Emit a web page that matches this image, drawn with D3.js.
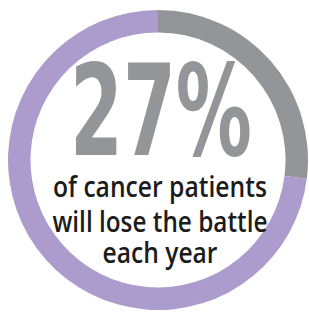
<!DOCTYPE html>
<html>
<head>
<meta charset="utf-8">
<script src="https://cdn.jsdelivr.net/npm/d3@7"></script>
<style>
  html, body { margin: 0; padding: 0; background: #fff; }
  svg { display: block; }
</style>
</head>
<body>
<svg id="chart" width="309" height="316"></svg>
<script>
const categories = ["lose the battle", "others"];
const values = [27, 73];
const colors = ["#939598", "#ab9ccd"];
const headline = "27%";
const captionLines = ["of cancer patients", "will lose the battle", "each year"];

const svg = d3.select("#chart");
const cx = 158, cy = 160, rOuter = 150, rInner = 127.5;

const g = svg.append("g").attr("transform", `translate(${cx},${cy})`);
const pie = d3.pie().sort(null).value(d => d.value);
const arc = d3.arc().innerRadius(rInner).outerRadius(rOuter);
const data = categories.map((c, i) => ({ cat: c, value: values[i] }));

g.selectAll("path").data(pie(data)).join("path")
  .attr("d", arc)
  .attr("fill", (d, i) => colors[i]);

svg.append("text")
  .attr("x", 161).attr("y", 155)
  .attr("text-anchor", "middle")
  .attr("font-family", "'Liberation Sans Narrow', 'DejaVu Sans Condensed', sans-serif")
  .attr("font-weight", "bold")
  .attr("font-size", 127)
  .attr("fill", "#939598")
  .attr("textLength", 182)
  .attr("lengthAdjust", "spacingAndGlyphs")
  .text(headline);

const lineY = [197, 232, 263];
const lineW = [214, 215, 115];
svg.selectAll("text.cap").data(captionLines).join("text")
  .attr("class", "cap")
  .attr("x", 160)
  .attr("y", (d, i) => lineY[i])
  .attr("text-anchor", "middle")
  .attr("font-family", "'Open Sans', sans-serif")
  .attr("font-weight", 600)
  .attr("font-size", 28)
  .attr("fill", "#1c1c1c")
  .attr("textLength", (d, i) => lineW[i])
  .attr("lengthAdjust", "spacingAndGlyphs")
  .text(d => d);
</script>
</body>
</html>
